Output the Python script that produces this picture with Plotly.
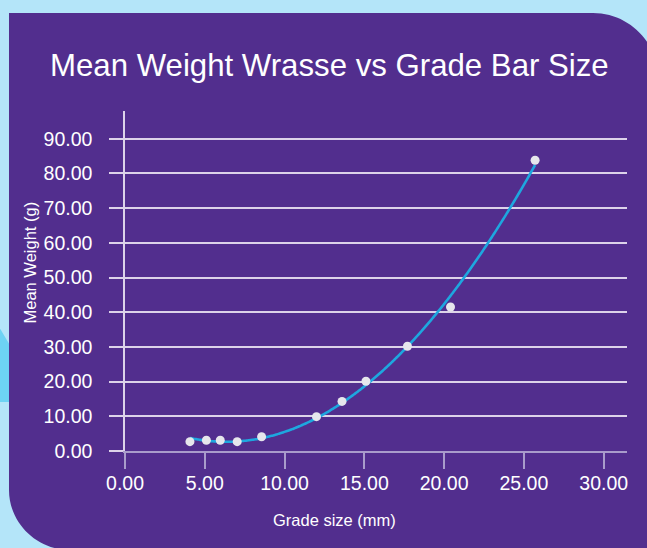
import numpy as np
import plotly.graph_objects as go

# ---- data ----
grade_size_mm = [4.07, 5.10, 5.97, 7.03, 8.56, 12.00, 13.60, 15.10, 17.70, 20.40, 25.70]
mean_weight_g = [2.7, 3.1, 3.1, 2.7, 4.1, 9.9, 14.3, 20.1, 30.2, 41.5, 83.8]
x_ticks = [0, 5, 10, 15, 20, 25, 30]
y_ticks = [0, 10, 20, 30, 40, 50, 60, 70, 80, 90]
title_text = "Mean Weight Wrasse vs Grade Bar Size"
x_title = "Grade size (mm)"
y_title = "Mean Weight (g)"

# polynomial (order 2) trendline fitted to the data, as in the original
coef = np.polyfit(grade_size_mm, mean_weight_g, 2)
trend_x = np.linspace(min(grade_size_mm), max(grade_size_mm), 200)
trend_y = np.polyval(coef, trend_x)

# ---- layout geometry (pixels) ----
FW, FH = 647, 548
L, T, W, H = 125, 111, 502, 340

def px(x):
    return (x - L) / W

def py(y):
    return (T + H - y) / H

def path(cmds):
    out = []
    for c in cmds:
        if isinstance(c, str):
            out.append(c)
        else:
            out.append(f"{px(c[0]):.5f},{py(c[1]):.5f}")
    return " ".join(out)

PURPLE = "#522e8e"
LIGHT = "#b4e5f9"
CYAN = "#6dd3f4"
GRID = "#ddd3ea"
AXIS = "#a99ccb"
FONT = "Liberation Sans, Arial, sans-serif"

k1 = 0.5523 * 65
k2 = 0.5523 * 60
panel = path([
    "M", (9, 13), "L", (593, 13),
    "C", (593 + k1, 13), (658, 78 - k1), (658, 78),
    "L", (658, 620), "L", (70, 620), "L", (70, 550),
    "C", (70 - k2, 550), (9, 490 + k2), (9, 490),
    "Z",
])
cyan = path(["M", (-5, 320), "L", (14, 352), "L", (14, 402), "L", (-5, 402), "Z"])

fig = go.Figure()
fig.add_trace(go.Scatter(
    x=trend_x, y=trend_y, mode="lines",
    line=dict(color="#1ea7df", width=2.6, shape="spline"),
    hoverinfo="skip", showlegend=False,
))
fig.add_trace(go.Scatter(
    x=grade_size_mm, y=mean_weight_g, mode="markers",
    marker=dict(color="#e6e6ec", size=9, line=dict(width=0)),
    showlegend=False,
))

fig.update_layout(
    width=FW, height=FH,
    margin=dict(l=L, r=FW - L - W, t=T, b=FH - T - H, pad=0),
    paper_bgcolor=LIGHT,
    plot_bgcolor="rgba(0,0,0,0)",
    font=dict(family=FONT, color="white"),
    shapes=[
        dict(type="path", path=cyan, xref="paper", yref="paper",
             fillcolor=CYAN, line=dict(width=0), layer="below"),
        dict(type="path", path=panel, xref="paper", yref="paper",
             fillcolor=PURPLE, line=dict(width=0), layer="below"),
    ],
    annotations=[
        dict(text=title_text, xref="paper", yref="paper",
             x=px(329.5), y=py(65), xanchor="center", yanchor="middle",
             showarrow=False, font=dict(size=31.2, color="white", family=FONT)),
        dict(text=x_title, xref="paper", yref="paper",
             x=px(334.5), y=py(520), xanchor="center", yanchor="middle",
             showarrow=False, font=dict(size=16.5, color="white", family=FONT)),
        dict(text=y_title, xref="paper", yref="paper", textangle=-90,
             x=px(29), y=py(262.5), xanchor="center", yanchor="middle",
             showarrow=False, font=dict(size=16.5, color="white", family=FONT)),
    ],
    xaxis=dict(
        range=[0, 31.46], tickvals=x_ticks, tickformat=".2f",
        showgrid=False, zeroline=False,
        showline=True, linecolor=AXIS, linewidth=2,
        ticks="outside", ticklen=16, tickcolor=AXIS, tickwidth=2,
        tickfont=dict(size=19.5, color="white", family=FONT),
        ticklabelstandoff=-2,
        fixedrange=True,
    ),
    yaxis=dict(
        range=[0, 98], tickvals=y_ticks, tickformat=".2f",
        showgrid=True, gridcolor=GRID, gridwidth=1.5, zeroline=False,
        showline=True, linecolor=GRID, linewidth=1.5,
        ticks="outside", ticklen=14, tickcolor=GRID, tickwidth=1.5,
        tickfont=dict(size=19.5, color="white", family=FONT),
        ticklabelstandoff=13,
        fixedrange=True,
    ),
)

fig.write_html("out.html", config={"displayModeBar": False},
               post_script="document.body.style.margin='0';")
